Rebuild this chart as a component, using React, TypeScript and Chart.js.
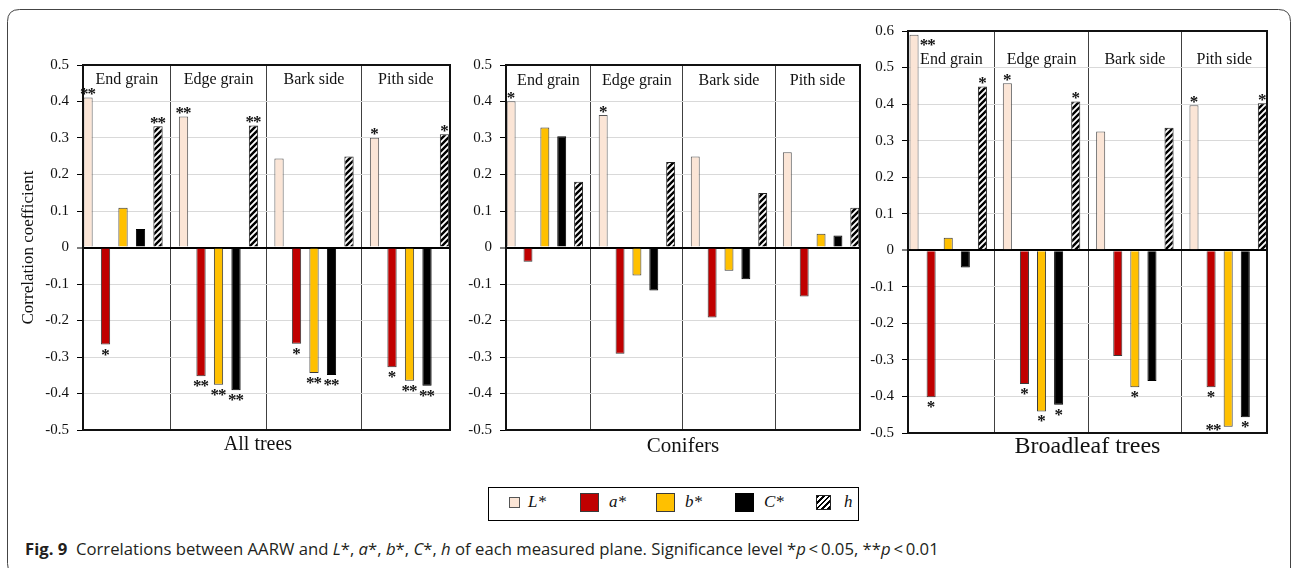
import React, { useEffect, useRef } from "react";
import { Chart, registerables } from "chart.js";

Chart.register(...registerables);

// ---------- data ----------
const categories = ["End grain", "Edge grain", "Bark side", "Pith side"];
const seriesNames = ["L*", "a*", "b*", "C*", "h"];
const yTicksStandard = [-0.5, -0.4, -0.3, -0.2, -0.1, 0, 0.1, 0.2, 0.3, 0.4, 0.5];
const yTicksBroadleaf = [-0.5, -0.4, -0.3, -0.2, -0.1, 0, 0.1, 0.2, 0.3, 0.4, 0.5, 0.6];
const categoryDividers = [0.5, 1.5, 2.5];

const allTreesL = [0.411, 0.359, 0.244, 0.301];
const allTreesA = [-0.266, -0.353, -0.264, -0.328];
const allTreesB = [0.109, -0.376, -0.344, -0.365];
const allTreesC = [0.051, -0.391, -0.349, -0.379];
const allTreesH = [0.332, 0.334, 0.249, 0.31];
const allTreesLSig = ["**", "**", "", "*"];
const allTreesASig = ["*", "**", "*", "*"];
const allTreesBSig = ["", "**", "**", "**"];
const allTreesCSig = ["", "**", "**", "**"];
const allTreesHSig = ["**", "**", "", "*"];

const conifersL = [0.401, 0.363, 0.249, 0.261];
const conifersA = [-0.039, -0.291, -0.192, -0.134];
const conifersB = [0.329, -0.077, -0.064, 0.038];
const conifersC = [0.305, -0.118, -0.087, 0.033];
const conifersH = [0.18, 0.234, 0.149, 0.109];
const conifersLSig = ["*", "*", "", ""];
const conifersASig = ["", "", "", ""];
const conifersBSig = ["", "", "", ""];
const conifersCSig = ["", "", "", ""];
const conifersHSig = ["", "", "", ""];

const broadleafL = [0.59, 0.457, 0.325, 0.397];
const broadleafA = [-0.402, -0.366, -0.289, -0.375];
const broadleafB = [0.034, -0.441, -0.375, -0.483];
const broadleafC = [-0.047, -0.423, -0.358, -0.457];
const broadleafH = [0.448, 0.407, 0.335, 0.402];
const broadleafLSig = ["**", "*", "", "*"];
const broadleafASig = ["*", "*", "", "*"];
const broadleafBSig = ["", "*", "*", "**"];
const broadleafCSig = ["", "*", "", "*"];
const broadleafHSig = ["*", "*", "", "*"];

// ---------- styles / layout ----------
const seriesFill = ["#fbe5d6", "#c00000", "#ffc000", "#000000", "hatch"];
const seriesBorder = ["#555555", "#3a3a3a", "#3a3a3a", "#000000", "#222222"];
const SERIF = '"Liberation Serif", "Times New Roman", serif';

const panels = [
  {
    title: "All trees",
    series: [allTreesL, allTreesA, allTreesB, allTreesC, allTreesH],
    sigs: [allTreesLSig, allTreesASig, allTreesBSig, allTreesCSig, allTreesHSig],
    yTicks: yTicksStandard,
    yTitle: "Correlation coefficient",
    canvas: { x: 0, y: 40, w: 460, h: 430 },
    area: { l: 83, t: 65, r: 450, b: 430 },
    xMin: -0.419,
    xMax: 3.424,
    labelValue: 0.459,
    titleSize: 20,
    titleDx: -8.5,
    titleGap: 15,
  },
  {
    title: "Conifers",
    series: [conifersL, conifersA, conifersB, conifersC, conifersH],
    sigs: [conifersLSig, conifersASig, conifersBSig, conifersCSig, conifersHSig],
    yTicks: yTicksStandard,
    yTitle: "",
    canvas: { x: 460, y: 40, w: 410, h: 430 },
    area: { l: 506, t: 65, r: 860, b: 430 },
    xMin: -0.422,
    xMax: 3.423,
    labelValue: 0.457,
    titleSize: 21,
    titleDx: 0,
    titleGap: 16.5,
  },
  {
    title: "Broadleaf trees",
    series: [broadleafL, broadleafA, broadleafB, broadleafC, broadleafH],
    sigs: [broadleafLSig, broadleafASig, broadleafBSig, broadleafCSig, broadleafHSig],
    yTicks: yTicksBroadleaf,
    yTitle: "",
    canvas: { x: 865, y: 10, w: 420, h: 460 },
    area: { l: 908, t: 31, r: 1267, b: 433 },
    xMin: -0.431,
    xMax: 3.416,
    labelValue: 0.522,
    titleSize: 24,
    titleDx: 0,
    titleGap: 14,
  },
];

const legendLayout = [
  { size: 11, sx: 20, tx: 39 },
  { size: 19, sx: 91, tx: 120 },
  { size: 19, sx: 167, tx: 196 },
  { size: 19, sx: 246, tx: 275 },
  { size: 15, sx: 327, tx: 355 },
];

function makeHatch(ctx: CanvasRenderingContext2D) {
  const c = document.createElement("canvas");
  c.width = 6;
  c.height = 6;
  const g = c.getContext("2d")!;
  g.fillStyle = "#ffffff";
  g.fillRect(0, 0, 6, 6);
  g.strokeStyle = "#000000";
  g.lineWidth = 2.4;
  g.beginPath();
  g.moveTo(-1, 7);
  g.lineTo(7, -1);
  g.moveTo(-1, 1);
  g.lineTo(1, -1);
  g.moveTo(5, 7);
  g.lineTo(7, 5);
  g.stroke();
  return ctx.createPattern(c, "repeat");
}

function fmtTick(v: number) {
  return v === 0 ? "0" : v.toFixed(1);
}

function Panel({ p }: { p: any }) {
  const ref = useRef<HTMLCanvasElement>(null);
  useEffect(() => {
    const canvas = ref.current!;
    const ctx = canvas.getContext("2d")!;
    const hatch = makeHatch(ctx);
    const yW = p.area.l - p.canvas.x;
    const padTop = p.area.t - p.canvas.y;
    const padRight = p.canvas.x + p.canvas.w - p.area.r;
    const xH = p.canvas.y + p.canvas.h - p.area.b;

    const decor = {
      id: "panelDecor",
      afterDatasetsDraw(chart: any) {
        const { ctx: c, chartArea: a, scales } = chart;
        const x = scales.x;
        const y = scales.y;
        c.save();
        // category labels
        c.font = `16px ${SERIF}`;
        c.fillStyle = "#111";
        c.textAlign = "center";
        c.textBaseline = "middle";
        categories.forEach((cat, j) => {
          const l = Math.max(a.left, x.getPixelForValue(j - 0.5));
          const r = Math.min(a.right, x.getPixelForValue(j + 0.5));
          c.fillText(cat, (l + r) / 2, y.getPixelForValue(p.labelValue));
        });
        // significance stars (each asterisk drawn separately, 7.5px apart)
        c.font = `bold 17px ${SERIF}`;
        c.fillStyle = "#111";
        c.textAlign = "center";
        c.textBaseline = "alphabetic";
        const m = c.measureText("*");
        const asc = m.actualBoundingBoxAscent;
        const desc = m.actualBoundingBoxDescent;
        const gh = asc + desc;
        const step = 7.5;
        p.sigs.forEach((sigArr: string[], i: number) => {
          const meta = chart.getDatasetMeta(i);
          sigArr.forEach((sig, j) => {
            if (!sig) return;
            const bar = meta.data[j];
            const v = p.series[i][j];
            const n = sig.length;
            const w = (n - 1) * step + 7;
            let cx = bar.x;
            let cy;
            if (v >= 0) {
              cy = bar.y - 6;
              if (cy - gh / 2 < a.top) {
                cx = bar.x + bar.width / 2 + 2 + w / 2;
                cy = bar.y + 8;
              }
            } else {
              cy = bar.y + 7.5;
              if (cy + gh / 2 > a.bottom) {
                cx = bar.x - bar.width / 2 - 3 - w / 2;
                cy = bar.y + 1;
              }
            }
            for (let k = 0; k < n; k++) {
              const sx = cx + (k - (n - 1) / 2) * step;
              c.fillText("*", sx, cy + (asc - desc) / 2);
            }
          });
        });
        // plot frame
        c.strokeStyle = "#111";
        c.lineWidth = 2;
        c.strokeRect(a.left, a.top, a.right - a.left, a.bottom - a.top);
        // panel title
        c.font = `${p.titleSize}px ${SERIF}`;
        c.fillStyle = "#111";
        c.textAlign = "center";
        c.textBaseline = "middle";
        c.fillText(p.title, (a.left + a.right) / 2 + p.titleDx, a.bottom + p.titleGap);
        c.restore();
      },
    };

    const chart = new Chart(ctx, {
      type: "bar",
      data: {
        datasets: p.series.map((vals: number[], i: number) => ({
          label: seriesNames[i],
          data: vals.map((v, j) => ({ x: j, y: v })),
          backgroundColor: seriesFill[i] === "hatch" ? hatch : seriesFill[i],
          borderColor: seriesBorder[i],
          borderWidth: 1,
          borderSkipped: "start",
          categoryPercentage: 0.916,
          barPercentage: 0.53,
        })),
      },
      options: {
        animation: false,
        responsive: false,
        maintainAspectRatio: false,
        events: [],
        layout: { padding: { top: padTop, right: padRight, left: 0, bottom: 0 } },
        plugins: { legend: { display: false }, tooltip: { enabled: false } },
        scales: {
          x: {
            type: "linear",
            offset: false,
            bounds: "data",
            min: p.xMin,
            max: p.xMax,
            afterBuildTicks: (s: any) => {
              s.ticks = categoryDividers.map((v) => ({ value: v }));
            },
            ticks: { display: false },
            grid: { color: "#404040", lineWidth: 1, drawTicks: false, offset: false },
            border: { display: false },
            afterFit: (s: any) => {
              s.height = xH;
            },
          },
          y: {
            type: "linear",
            min: p.yTicks[0],
            max: p.yTicks[p.yTicks.length - 1],
            afterBuildTicks: (s: any) => {
              s.ticks = p.yTicks.map((v: number) => ({ value: v }));
            },
            ticks: {
              callback: (v: any) => fmtTick(Number(v)),
              padding: 8,
              color: "#111",
              font: { family: SERIF, size: 15 },
            },
            grid: {
              color: (c: any) => (c.tick && c.tick.value === 0 ? "#000000" : "#d9d9d9"),
              lineWidth: (c: any) => (c.tick && c.tick.value === 0 ? 2 : 1),
              tickLength: 6,
              tickColor: "#000000",
              tickWidth: 1,
            },
            border: { display: true, color: "#000", width: 2 },
            title: {
              display: !!p.yTitle,
              text: p.yTitle,
              color: "#111",
              font: { family: SERIF, size: 17 },
              padding: { top: 18, bottom: 0 },
            },
            afterFit: (s: any) => {
              s.width = yW;
            },
          },
        },
      },
      plugins: [decor],
    } as any);
    return () => chart.destroy();
  }, [p]);
  return (
    <canvas
      ref={ref}
      width={p.canvas.w}
      height={p.canvas.h}
      style={{
        position: "absolute",
        left: p.canvas.x,
        top: p.canvas.y,
        width: p.canvas.w,
        height: p.canvas.h,
        display: "block",
      }}
    />
  );
}

function Legend() {
  return (
    <div
      style={{
        position: "absolute",
        left: 488,
        top: 487,
        width: 371,
        height: 34,
        border: "1px solid #000",
        boxSizing: "border-box",
        background: "#fff",
      }}
    >
      {seriesNames.map((name, i) => {
        const lay = legendLayout[i];
        const fill = seriesFill[i];
        const bg =
          fill === "hatch"
            ? "repeating-linear-gradient(135deg, #000 0px, #000 1.8px, #fff 1.8px, #fff 4px)"
            : fill;
        return (
          <React.Fragment key={name}>
            <div
              style={{
                position: "absolute",
                left: lay.sx,
                top: 14 - lay.size / 2,
                width: lay.size,
                height: lay.size,
                boxSizing: "border-box",
                border: `1px solid ${seriesBorder[i]}`,
                background: bg,
              }}
            />
            <div
              style={{
                position: "absolute",
                left: lay.tx,
                top: 3,
                fontFamily: SERIF,
                fontStyle: "italic",
                fontSize: 17,
                lineHeight: "22px",
                color: "#111",
                whiteSpace: "nowrap",
              }}
            >
              {name}
            </div>
          </React.Fragment>
        );
      })}
    </div>
  );
}

export default function App() {
  return (
    <div
      style={{
        position: "absolute",
        left: 0,
        top: 0,
        width: 1291,
        height: 568,
        background: "#fff",
        overflow: "hidden",
      }}
    >
      <svg width={1291} height={568} style={{ position: "absolute", left: 0, top: 0 }}>
        <path
          d="M 19.5 575.5 Q 7.5 575.5 7.5 563.5 L 7.5 21.5 Q 7.5 9.5 19.5 9.5 L 1278.5 9.5 Q 1290.5 9.5 1290.5 21.5 L 1290.5 575.5"
          fill="none"
          stroke="#444"
          strokeWidth={1}
        />
      </svg>
      {panels.map((p) => (
        <Panel key={p.title} p={p} />
      ))}
      <Legend />
      <div
        style={{
          position: "absolute",
          left: 25,
          top: 537,
          fontFamily: '"Open Sans", "Noto Sans", sans-serif',
          fontSize: 16.7,
          lineHeight: "24px",
          color: "#231f20",
          whiteSpace: "nowrap",
        }}
      >
        <b>Fig. 9</b>
        {"\u00a0\u00a0Correlations between AARW and "}
        <i>L</i>*, <i>a</i>*, <i>b</i>*, <i>C</i>*, <i>h</i>
        {" of each measured plane. Significance level *"}
        <i>p</i>
        {"\u2009<\u20090.05, **"}
        <i>p</i>
        {"\u2009<\u20090.01"}
      </div>
    </div>
  );
}
